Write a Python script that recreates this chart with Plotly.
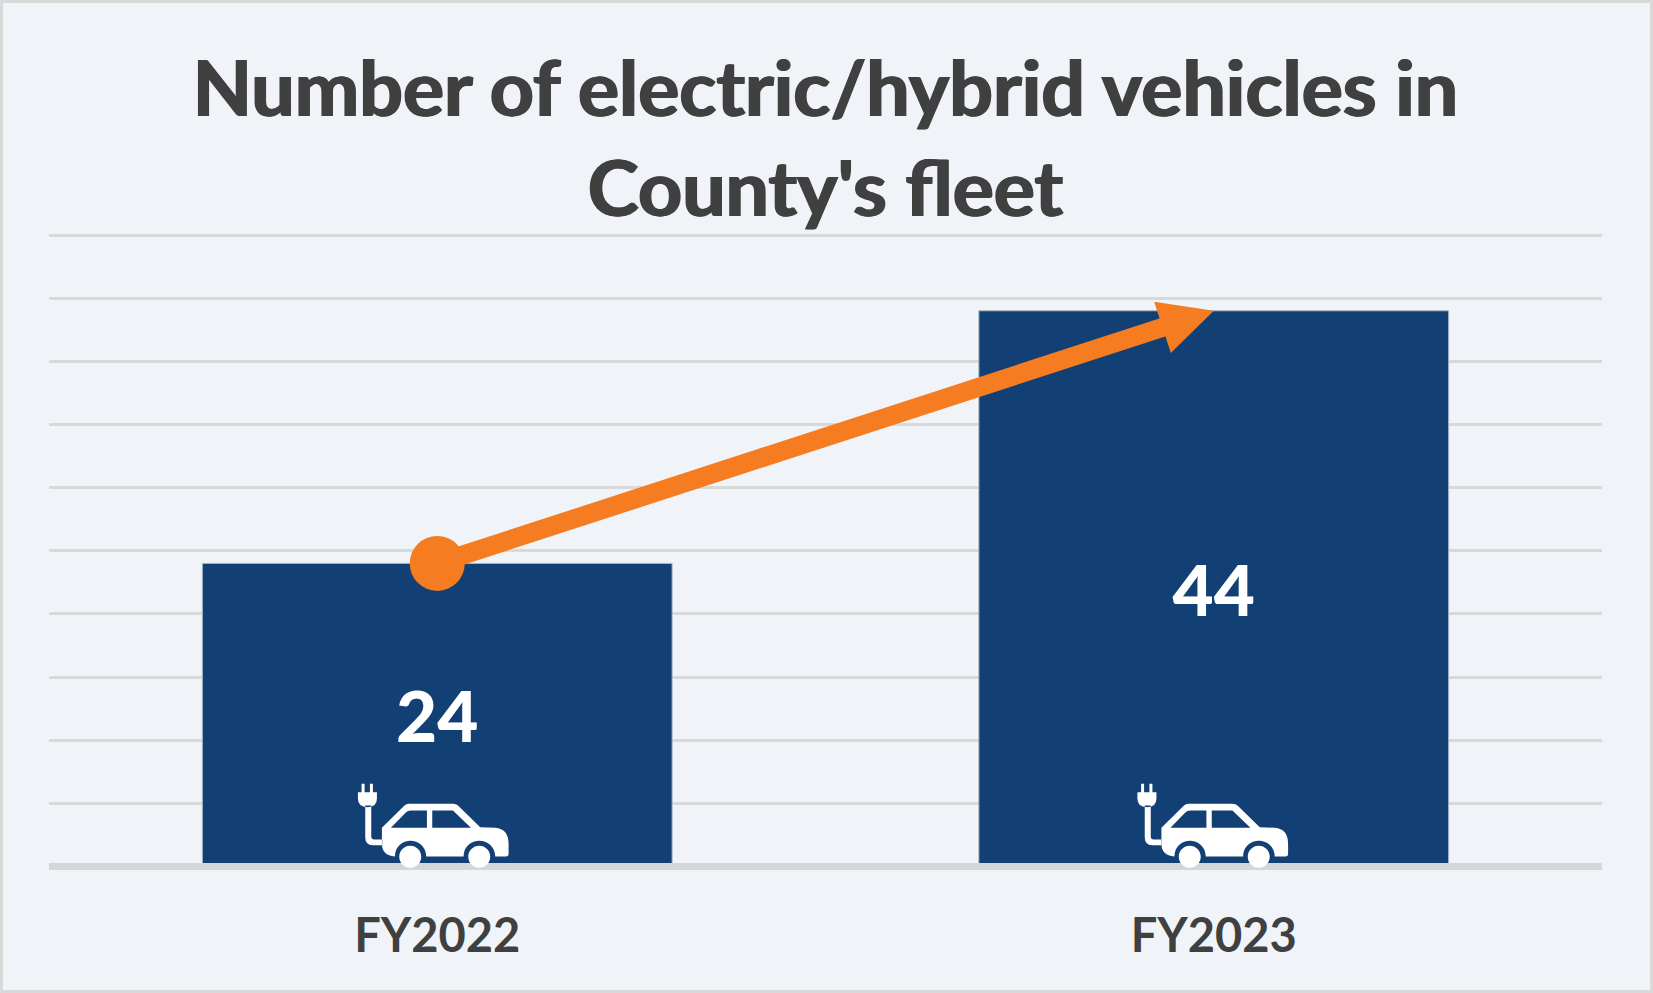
import plotly.graph_objects as go

categories = ["FY2022", "FY2023"]
vehicles = [24, 44]
title_text = "Number of electric/hybrid vehicles in<br>County's fleet"

W, H = 1653, 993
L, R, T, B = 49, 51, 233, 130
FONT = "Lato, Carlito, sans-serif"
TEXT = "#404040"
NAVY = "#134074"
ORANGE = "#F57C20"
BG = "#F0F4F9"
GRID = "#D9D9D9"
ZERO_BELOW_PLOT = 3.5   # the axis line is centred on zero
PX_PER_UNIT = 12.63
TOP_PAD = 2.0
HEAVY = "1px 0 0 #404040, -1px 0 0 #404040"


# Icon outline helpers: offsets in pixels from the bar's centre on the baseline
def icon(dx):
    def px(x, y):
        return f"{(x - 411) / 3 + dx:.2f},{(378 - y) / 3:.2f}"

    def circle(cx, cy, r):
        k = 0.5523 * r
        return (
            f"M{px(cx - r, cy)}"
            f"C{px(cx - r, cy - k)} {px(cx - k, cy - r)} {px(cx, cy - r)}"
            f"C{px(cx + k, cy - r)} {px(cx + r, cy - k)} {px(cx + r, cy)}"
            f"C{px(cx + r, cy + k)} {px(cx + k, cy + r)} {px(cx, cy + r)}"
            f"C{px(cx - k, cy + r)} {px(cx - r, cy + k)} {px(cx - r, cy)}Z"
        )

    body = (
        f"M{px(245, 262)}L{px(312, 196)}Q{px(318, 190)} {px(326, 190)}L{px(458, 190)}"
        f"Q{px(468, 190)} {px(474, 196)}L{px(540, 260)}L{px(585, 262)}"
        f"Q{px(625, 265)} {px(625, 310)}L{px(625, 340)}Q{px(625, 348)} {px(617, 348)}"
        f"L{px(585, 348)}C{px(583, 285)} {px(491, 285)} {px(490, 348)}"
        f"L{px(378, 348)}C{px(376, 285)} {px(285, 285)} {px(284, 348)}"
        f"Q{px(245, 345)} {px(245, 310)}Z"
    )
    rear_window = (
        f"M{px(272, 262)}L{px(316, 217)}Q{px(322, 210)} {px(332, 210)}"
        f"L{px(380, 210)}L{px(380, 262)}Z"
    )
    front_window = f"M{px(396, 210)}L{px(458, 210)}L{px(512, 262)}L{px(396, 262)}Z"
    cable = (
        f"M{px(246, 297)}L{px(222, 297)}Q{px(213, 297)} {px(213, 288)}L{px(213, 195)}"
        f"L{px(195, 195)}L{px(195, 290)}Q{px(195, 314)} {px(218, 314)}L{px(246, 314)}Z"
    )
    plug = (
        f"M{px(173, 155)}L{px(184, 155)}L{px(184, 130)}L{px(193, 130)}L{px(193, 155)}"
        f"L{px(209, 155)}L{px(209, 130)}L{px(218, 130)}L{px(218, 155)}L{px(230, 155)}"
        f"L{px(230, 175)}Q{px(230, 200)} {px(202, 200)}Q{px(173, 200)} {px(173, 175)}Z"
    )
    return body + rear_window + front_window + cable + plug + circle(330, 349, 33) + circle(537, 349, 33)


fig = go.Figure()
fig.add_trace(go.Bar(
    x=categories, y=vehicles, width=0.605,
    marker=dict(color=NAVY, line=dict(color="#A9B8C8", width=1)),
    text=vehicles, textposition="inside", insidetextanchor="middle",
    textangle=0, constraintext="none",
    textfont=dict(family=FONT, size=71, color="white", weight=900),
    hoverinfo="x+y",
))
fig.add_trace(go.Scatter(
    x=categories[:1], y=vehicles[:1], mode="markers",
    marker=dict(color=ORANGE, size=55, line=dict(width=0)),
    cliponaxis=False, hoverinfo="skip",
))

# Arrow head, then a thicker shaft that stops inside the head
fig.add_annotation(
    x=categories[1], y=vehicles[1], xref="x", yref="y",
    ax=categories[0], ay=vehicles[0], axref="x", ayref="y",
    text="", showarrow=True, arrowhead=2, arrowsize=0.77, arrowwidth=14,
    arrowcolor=ORANGE,
)
fig.add_annotation(
    x=categories[1], y=vehicles[1], xref="x", yref="y",
    ax=categories[0], ay=vehicles[0], axref="x", ayref="y",
    text="", showarrow=True, arrowhead=0, arrowwidth=19, standoff=42,
    arrowcolor=ORANGE,
)

pw, ph = W - L - R, H - T - B
icon_shift = [0, 3]
shapes = [
    dict(
        type="path", xref="x", yref="paper", xsizemode="pixel", ysizemode="pixel",
        xanchor=c, yanchor=-ZERO_BELOW_PLOT / ph, path=icon(d),
        fillcolor="white", line=dict(width=0), layer="above",
    )
    for c, d in zip(categories, icon_shift)
]
shapes.append(dict(
    type="rect", xref="paper", yref="paper",
    x0=(1.5 - L) / pw, x1=(W - 1.5 - L) / pw,
    y0=-(H - 1.5 - T - ph) / ph, y1=(T - 1.5 + ph) / ph,
    line=dict(color=GRID, width=3), fillcolor="rgba(0,0,0,0)", layer="above",
))

fig.update_layout(
    width=W, height=H, autosize=False,
    margin=dict(l=L, r=R, t=T, b=B, pad=0),
    paper_bgcolor=BG, plot_bgcolor=BG,
    showlegend=False, bargap=0.395,
    shapes=shapes,
    title=dict(
        text=title_text, x=0.5, xanchor="center", xref="paper",
        y=0.883, yanchor="bottom", yref="container",
        font=dict(family=FONT, size=77, color=TEXT, weight="bold", shadow=HEAVY),
    ),
    xaxis=dict(
        type="category", categoryorder="array", categoryarray=categories,
        showgrid=False, showline=True, linecolor="#D6D6DA", linewidth=7,
        ticks="outside", ticklen=26, tickcolor="rgba(0,0,0,0)",
        tickfont=dict(family=FONT, size=47, color=TEXT, weight="bold"),
        zeroline=False,
    ),
    yaxis=dict(
        range=[ZERO_BELOW_PLOT / PX_PER_UNIT, 50 + TOP_PAD / PX_PER_UNIT],
        tick0=0, dtick=5, showticklabels=False, ticks="",
        showgrid=True, gridcolor=GRID, gridwidth=3,
        zeroline=False, showline=False,
    ),
)

fig.write_html(
    "out.html",
    config={"displayModeBar": False},
    post_script="document.body.style.margin='0';",
)
